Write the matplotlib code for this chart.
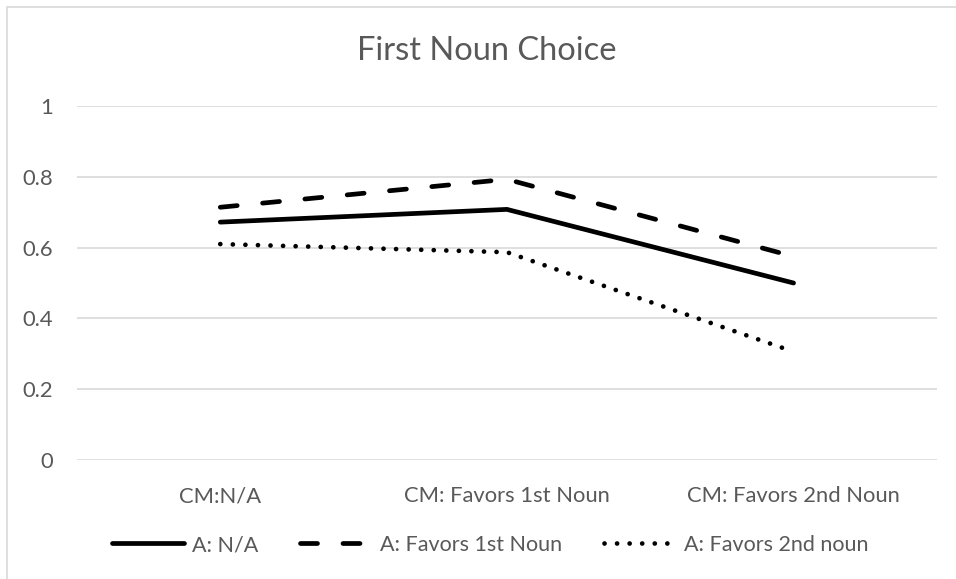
import matplotlib.pyplot as plt
from matplotlib.patches import Rectangle

categories = ["CM:N/A", "CM: Favors 1st Noun", "CM: Favors 2nd Noun"]
a_na = [0.672, 0.708, 0.500]
a_first = [0.714, 0.793, 0.575]
a_second = [0.610, 0.587, 0.306]
y_ticks = [0, 0.2, 0.4, 0.6, 0.8, 1]
y_labels = ["0", "0.2", "0.4", "0.6", "0.8", "1"]

GRAY = "#595959"


def main():
    plt.rcParams['font.family'] = ['Lato', 'DejaVu Sans']
    fig = plt.figure(figsize=(9.56, 5.79), dpi=100)
    ax = fig.add_axes([0.0805, 0.2055, 0.8995, 0.6114])

    # chart border (Excel chart area)
    fig.patches.append(Rectangle((7 / 956, -0.1), 1.2, 1 - 7 / 579 + 0.1,
                                 transform=fig.transFigure, fill=False,
                                 edgecolor="#d9d9d9", linewidth=1.2))

    x = range(len(categories))
    lw = 3.4
    ax.plot(x, a_na, color="black", lw=lw, solid_capstyle="round",
            solid_joinstyle="miter", label="A: N/A")
    ax.plot(x, a_first, color="black", lw=lw, dash_capstyle="round",
            linestyle=(0, (3.6, 5.4)), label="A: Favors 1st Noun")
    ax.plot(x, a_second, color="black", lw=lw, dash_capstyle="round",
            linestyle=(0, (0.01, 2.65)), label="A: Favors 2nd noun")

    ax.set_xlim(-0.5, 2.5)
    ax.set_ylim(0, 1)
    ax.set_xticks(list(x))
    ax.set_xticklabels(categories)
    ax.set_yticks(y_ticks)
    ax.set_yticklabels(y_labels)
    ax.tick_params(axis="both", length=0, colors=GRAY, labelsize=15.8)
    ax.tick_params(axis="x", pad=19)
    ax.tick_params(axis="y", pad=17)
    ax.grid(axis="y", color="#d9d9d9", lw=1.2)
    ax.set_axisbelow(True)
    for s in ax.spines.values():
        s.set_visible(False)

    fig.text(487 / 956, 1 - 51 / 579, "First Noun Choice", ha="center",
             va="center", fontsize=23.5, color=GRAY)

    ax.legend(loc="center", bbox_to_anchor=(490 / 956, 1 - 545 / 579),
              bbox_transform=fig.transFigure, ncol=3, frameon=False,
              fontsize=15.5, handlelength=3.34, handletextpad=0.37,
              columnspacing=1.95, labelcolor=GRAY)

    fig.savefig("out.png", dpi=100)


if __name__ == "__main__":
    main()
